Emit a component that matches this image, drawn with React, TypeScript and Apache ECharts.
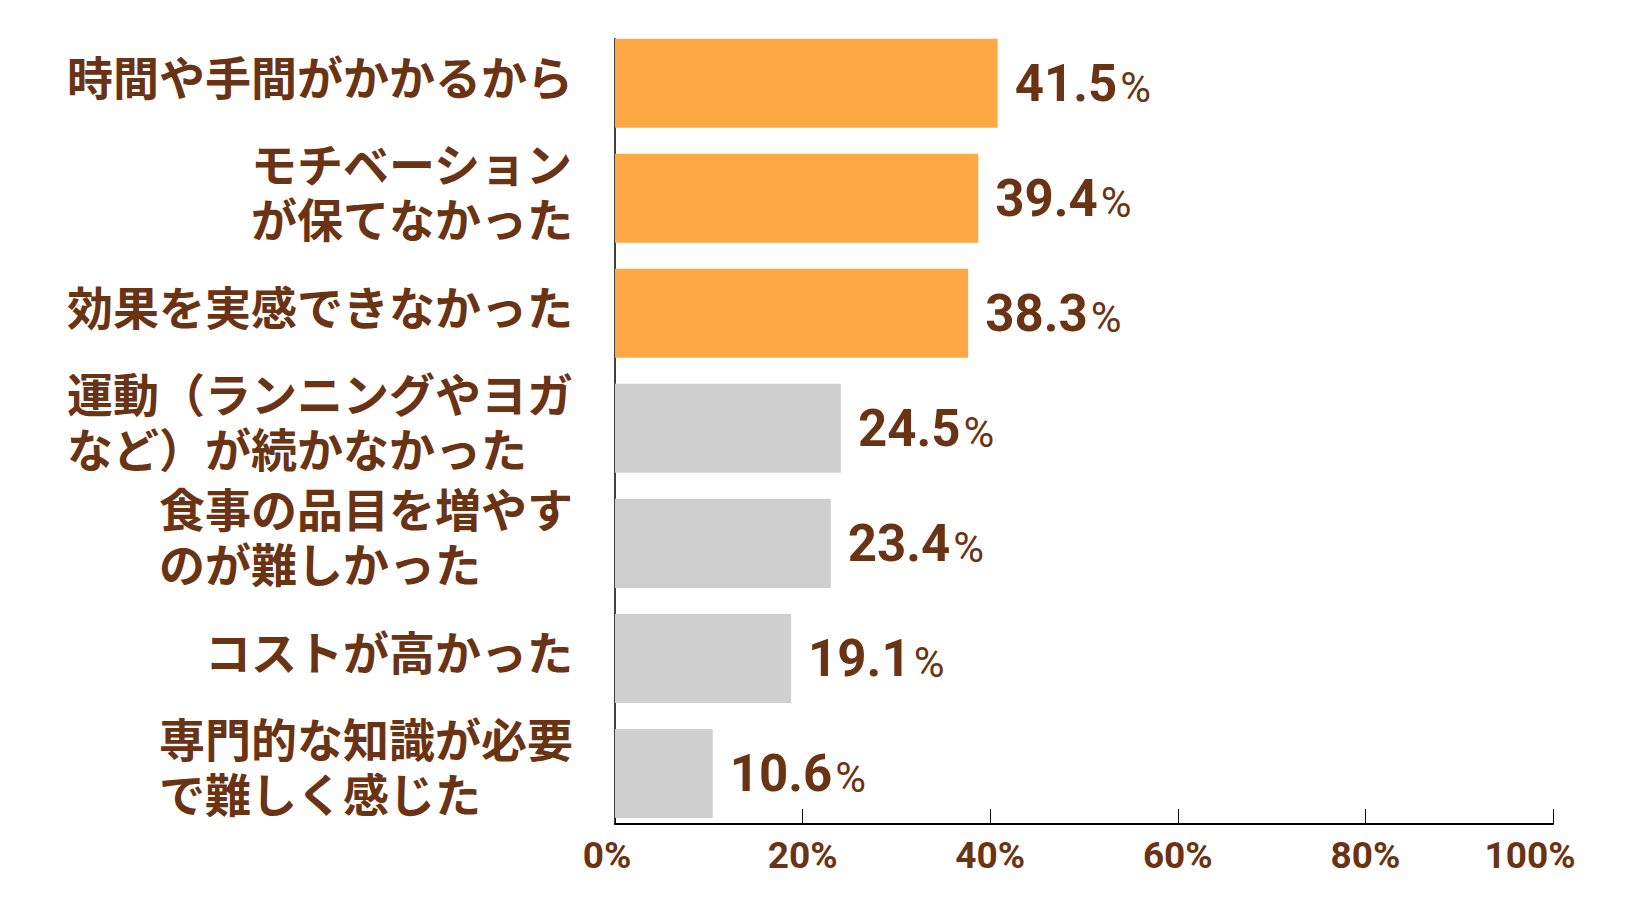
import React, { useEffect, useRef } from "react";
import * as echarts from "echarts";

const categories: string[][] = [
  ["時間や手間がかかるから"],
  ["モチベーション", "が保てなかった"],
  ["効果を実感できなかった"],
  ["運動（ランニングやヨガ", "など）が続かなかった"],
  ["食事の品目を増やす", "のが難しかった"],
  ["コストが高かった"],
  ["専門的な知識が必要", "で難しく感じた"],
];
const values: number[] = [41.5, 39.4, 38.3, 24.5, 23.4, 19.1, 10.6];
const highlighted: boolean[] = [true, true, true, false, false, false, false];
const tickValues: number[] = [0, 20, 40, 60, 80, 100];

const BROWN = "#6a3414";
const ORANGE = "#ffa946";
const GRAY = "#cfcfcf";
const JP_FONT = '"Noto Sans CJK JP", "Noto Sans", sans-serif';
const NUM_FONT = 'Roboto, "Noto Sans", sans-serif';

export default function App() {
  const ref = useRef<HTMLDivElement>(null);
  useEffect(() => {
    if (!ref.current) return;
    const chart = echarts.init(ref.current, undefined, { renderer: "svg" });
    const catKeys = categories.map((_, i) => "c" + i);
    chart.setOption({
      animation: false,
      backgroundColor: "#ffffff",
      grid: [
        // bars
        { left: 615, right: 105, top: 25.7, bottom: 83, containLabel: false },
        // axis lines / ticks
        { left: 615, right: 89, top: 38.7, bottom: 90, containLabel: false },
        // category labels
        { left: 615, right: 89, top: 17.2, bottom: 91.5, containLabel: false },
      ],
      xAxis: [
        { gridIndex: 0, type: "value", min: 0, max: 100, interval: 20, show: false },
        {
          gridIndex: 1,
          type: "value",
          min: 0,
          max: 100,
          interval: 20,
          axisLine: { show: true, lineStyle: { color: "#000", width: 2 } },
          axisTick: {
            show: true,
            inside: true,
            length: 15,
            lineStyle: { color: "#000", width: 1 },
          },
          splitLine: { show: false },
          axisLabel: {
            margin: 13,
            color: BROWN,
            fontFamily: NUM_FONT,
            fontWeight: "bold",
            fontSize: 37,
            formatter: (v: number) => {
              if (!tickValues.includes(v)) return "";
              if (v === 0) return "{l|0%}";
              if (v === 100) return "{r|100%}";
              return v + "%";
            },
            rich: {
              l: {
                color: BROWN,
                fontFamily: NUM_FONT,
                fontWeight: "bold",
                fontSize: 37,
                padding: [0, 16, 0, 0],
              },
              r: {
                color: BROWN,
                fontFamily: NUM_FONT,
                fontWeight: "bold",
                fontSize: 37,
                padding: [0, 46, 0, 0],
              },
            },
          },
        },
        { gridIndex: 2, type: "value", min: 0, max: 100, show: false },
      ],
      yAxis: [
        {
          gridIndex: 0,
          type: "category",
          inverse: true,
          data: catKeys,
          axisLine: { show: false },
          axisTick: { show: false },
          axisLabel: { show: false },
        },
        {
          gridIndex: 1,
          type: "value",
          min: 0,
          max: 1,
          axisLine: { show: true, lineStyle: { color: "#000", width: 1.5 } },
          axisTick: { show: false },
          axisLabel: { show: false },
          splitLine: { show: false },
        },
        {
          gridIndex: 2,
          type: "category",
          inverse: true,
          data: catKeys,
          axisLine: { show: false },
          axisTick: { show: false },
          axisLabel: {
            margin: 42,
            align: "right",
            formatter: (_: string, idx: number) =>
              categories[idx].map((line) => "{a|" + line + "}").join("\n"),
            rich: {
              a: {
                align: "left",
                color: BROWN,
                fontFamily: JP_FONT,
                fontWeight: "bold",
                fontSize: 46,
                lineHeight: 55,
              },
            },
          },
        },
      ],
      series: [
        {
          type: "bar",
          xAxisIndex: 0,
          yAxisIndex: 0,
          barCategoryGap: "22.6%",
          data: values.map((v, i) => ({
            value: v,
            itemStyle: { color: highlighted[i] ? ORANGE : GRAY },
          })),
          label: {
            show: true,
            position: "right",
            distance: 17,
            formatter: (p: any) => "{n|" + p.value.toFixed(1) + "}{p|%}",
            rich: {
              n: {
                color: BROWN,
                fontFamily: NUM_FONT,
                fontWeight: "bold",
                fontSize: 51,
                lineHeight: 51,
                verticalAlign: "bottom",
              },
              p: {
                color: BROWN,
                fontFamily: NUM_FONT,
                fontWeight: "normal",
                fontSize: 42,
                lineHeight: 42,
                verticalAlign: "bottom",
                padding: [0, 0, 0, 3],
              },
            },
          },
        },
      ],
    });
    return () => chart.dispose();
  }, []);
  return (
    <div
      ref={ref}
      style={{ position: "fixed", left: 0, top: 0, width: 1642, height: 914, background: "#fff" }}
    />
  );
}
